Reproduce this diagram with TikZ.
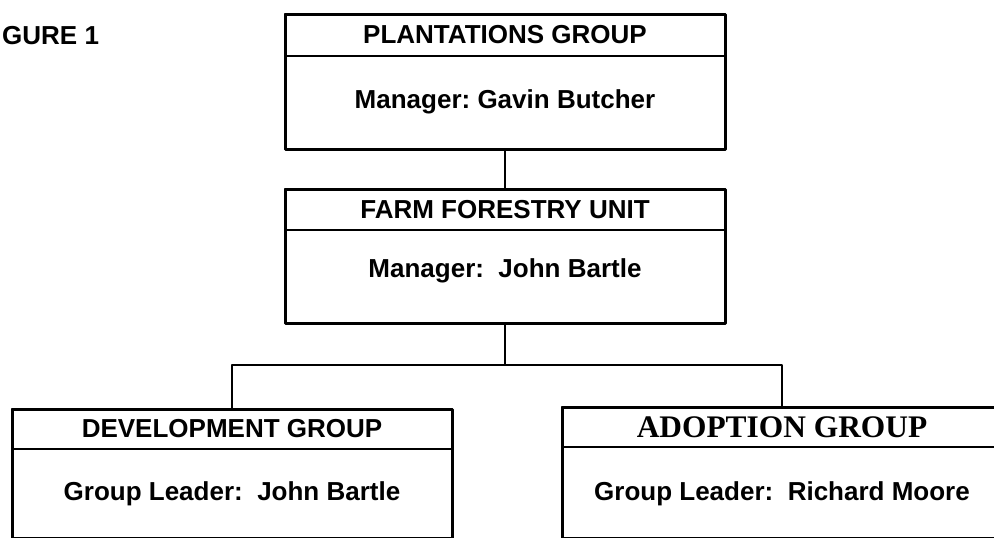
\documentclass[tikz,border=0pt]{standalone}
\usepackage{fontspec}
\setmainfont{Liberation Sans}
\newfontfamily\serifbf{Liberation Serif}
\usetikzlibrary{positioning}
\frenchspacing
\begin{document}
\begin{tikzpicture}[x=1pt,y=-1pt,line join=round,font=\fontsize{26}{30}\selectfont\bfseries,
	head/.style={draw,line width=1.4pt,minimum width=440pt,minimum height=#1,inner sep=0pt,outer sep=0pt},
	body/.style={draw,line width=1.4pt,minimum width=440pt,inner sep=0pt,outer sep=0pt},
	frame/.style={line width=3pt},
	link/.style={line width=2.6pt}]
			\clip (0,0) rectangle (994,538);
			\node[anchor=base west,inner sep=0pt] (fig) at (2,44) {GURE 1};
			
			% top
			\node[head=42pt] (plantH) at (505,35) {PLANTATIONS GROUP};
			\node[body,text height=52pt,text depth=41pt,below=0pt of plantH] (plant) {Manager: Gavin Butcher};
			\draw[frame] (plantH.north west) rectangle (plant.south east);
			
			% middle
			\node[head=41pt] (farmH) at (505,209.5) {FARM FORESTRY UNIT};
			\node[body,text height=47pt,text depth=46pt,below=0pt of farmH] (farm) {Manager:\ \ John Bartle};
			\draw[frame] (farmH.north west) rectangle (farm.south east);
			
			% bottom
			\node[head=40pt] (devH) at (232,429) {DEVELOPMENT GROUP};
			\node[body,text height=51pt,text depth=38pt,below=0pt of devH] (dev) {Group Leader:\ \ John Bartle};
			\draw[frame] (devH.north west) rectangle (dev.south east);
			
			\node[head=40pt,font=\fontsize{31.4}{36}\serifbf\bfseries] (adoptH) at (782,427) {ADOPTION GROUP};
			\node[body,text height=53pt,text depth=38pt,below=0pt of adoptH] (adopt) {Group Leader:\ \ Richard Moore};
			\draw[frame] (adoptH.north west) rectangle (adopt.south east);
			
			\draw[link] (plant) -- (farmH);
			\draw[link] (farm.south) -- ++(0,42) coordinate (split);
			\draw[link] (devH.north) |- (split) -| (adoptH.north);
			
\end{tikzpicture}
\end{document}
